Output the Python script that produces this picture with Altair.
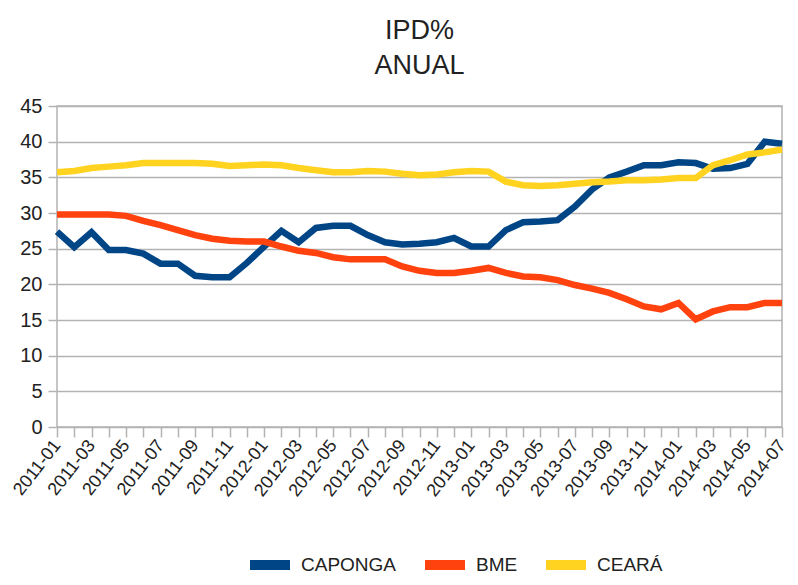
import altair as alt
import pandas as pd

months = [
    "2011-01", "2011-02", "2011-03", "2011-04", "2011-05", "2011-06", "2011-07", "2011-08",
    "2011-09", "2011-10", "2011-11", "2011-12", "2012-01", "2012-02", "2012-03", "2012-04",
    "2012-05", "2012-06", "2012-07", "2012-08", "2012-09", "2012-10", "2012-11", "2012-12",
    "2013-01", "2013-02", "2013-03", "2013-04", "2013-05", "2013-06", "2013-07", "2013-08",
    "2013-09", "2013-10", "2013-11", "2013-12", "2014-01", "2014-02", "2014-03", "2014-04",
    "2014-05", "2014-06", "2014-07",
]

caponga = [27.4, 25.2, 27.3, 24.8, 24.8, 24.3, 22.9, 22.9, 21.2, 21.0, 21.0, 23.0, 25.3, 27.5,
           25.9, 27.9, 28.2, 28.2, 26.9, 25.9, 25.6, 25.7, 25.9, 26.5, 25.3, 25.3, 27.6, 28.7,
           28.8, 29.0, 30.9, 33.3, 35.0, 35.8, 36.7, 36.7, 37.1, 37.0, 36.2, 36.3, 36.9, 40.0, 39.7]

bme = [29.8, 29.8, 29.8, 29.8, 29.6, 28.9, 28.3, 27.6, 26.9, 26.4, 26.1, 26.0, 26.0, 25.3,
       24.7, 24.4, 23.8, 23.5, 23.5, 23.5, 22.5, 21.9, 21.6, 21.6, 21.9, 22.3, 21.6, 21.1,
       21.0, 20.6, 19.9, 19.4, 18.8, 17.9, 16.9, 16.5, 17.4, 15.1, 16.2, 16.8, 16.8, 17.4, 17.4]

ceara = [35.7, 35.9, 36.3, 36.5, 36.7, 37.0, 37.0, 37.0, 37.0, 36.9, 36.6, 36.7, 36.8, 36.7,
         36.3, 36.0, 35.7, 35.7, 35.9, 35.8, 35.5, 35.3, 35.4, 35.7, 35.9, 35.8, 34.4, 33.9,
         33.8, 33.9, 34.1, 34.3, 34.4, 34.6, 34.6, 34.7, 34.9, 34.9, 36.7, 37.4, 38.2, 38.5, 38.9]

series = ["CAPONGA", "BME", "CEARÁ"]
colors = ["#004586", "#ff420e", "#ffd320"]
y_ticks = [0, 5, 10, 15, 20, 25, 30, 35, 40, 45]

rows = []
for name, vals in zip(series, [caponga, bme, ceara]):
    for m, v in zip(months, vals):
        rows.append({"mes": m, "valor": v, "serie": name, "ordem": series.index(name)})
df = pd.DataFrame(rows)

FONT = "Liberation Sans Narrow, Liberation Sans, Arial, sans-serif"
GRID = "#b3b3b3"

chart = alt.Chart(df).mark_line(strokeWidth=6.5, strokeJoin="miter", strokeMiterLimit=4).encode(
    x=alt.X(
        "mes:N",
        sort=months,
        scale=alt.Scale(padding=0),
        axis=alt.Axis(
            title=None,
            labelAngle=-52,
            labelAlign="right",
            labelBaseline="middle",
            labelExpr="toNumber(substring(datum.value, 5, 7)) % 2 == 1 ? datum.value : ''",
            labelOverlap=False,
            labelFontSize=18,
            labelFont=FONT,
            labelColor="#222222",
            labelPadding=5,
            tickSize=10,
            tickColor=GRID,
            tickWidth=1.5,
            domain=False,
            grid=False,
        ),
    ),
    y=alt.Y(
        "valor:Q",
        scale=alt.Scale(domain=[0, 45], nice=False),
        axis=alt.Axis(
            title=None,
            values=y_ticks,
            labelFontSize=20,
            labelFont=FONT,
            labelColor="#222222",
            labelPadding=6,
            tickSize=9,
            tickColor=GRID,
            tickWidth=1.5,
            gridColor=GRID,
            gridWidth=1.5,
            domain=False,
        ),
    ),
    color=alt.Color(
        "serie:N",
        sort=series,
        scale=alt.Scale(domain=series, range=colors),
        legend=alt.Legend(
            title=None,
            orient="none",
            direction="horizontal",
            legendX=188,
            legendY=434,
            symbolType="stroke",
            symbolSize=1600,
            symbolStrokeWidth=10,
            labelFontSize=19,
            labelFont=FONT,
            labelColor="#222222",
            labelOffset=6,
            columnPadding=8,
        ),
    ),
    order=alt.Order("ordem:Q"),
).properties(
    width=725,
    height=321,
    title=alt.TitleParams(
        text=["IPD%", "ANUAL"],
        fontSize=27,
        font=FONT,
        fontWeight="normal",
        color="#222222",
        lineHeight=35,
        anchor="middle",
        offset=16,
    ),
    autosize=alt.AutoSizeParams(type="none"),
    padding={"left": 49, "top": 98, "right": 8, "bottom": 150},
).configure_view(
    stroke=GRID, strokeWidth=1.5
)

chart.save("out.html", embed_options={"renderer": "svg", "actions": False})
